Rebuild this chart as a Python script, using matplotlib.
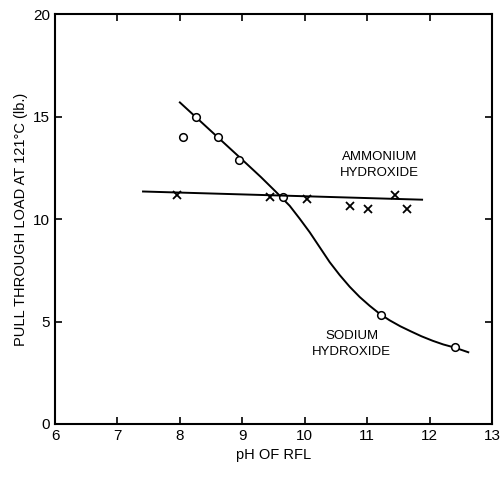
import matplotlib
matplotlib.use('Agg')
import matplotlib.pyplot as plt

plt.rcParams['font.family'] = ['Liberation Sans', 'DejaVu Sans']

# sodium hydroxide points (circles) and hand-drawn curve
naoh_ph = [8.05, 8.26, 8.61, 8.95, 9.65, 11.22, 12.4]
naoh_load = [14.0, 15.0, 14.0, 12.9, 11.1, 5.3, 3.75]
naoh_curve_ph = [8.0, 8.5, 9.0, 9.3, 9.55, 9.76, 9.92, 10.08, 10.24, 10.4, 10.56,
                 10.72, 10.88, 11.04, 11.2, 11.36, 11.53, 11.7, 11.87, 12.05, 12.22, 12.4, 12.62]
naoh_curve_load = [15.7, 14.3, 12.9, 12.05, 11.3, 10.65, 10.02, 9.36, 8.63, 7.9, 7.27,
                   6.7, 6.2, 5.77, 5.38, 5.06, 4.77, 4.52, 4.28, 4.06, 3.88, 3.73, 3.5]

# ammonium hydroxide points (crosses) and straight fit
nh4_ph = [7.95, 9.44, 10.03, 10.73, 11.02, 11.44, 11.64]
nh4_load = [11.2, 11.1, 11.0, 10.65, 10.5, 11.2, 10.5]
nh4_line_ph = [7.41, 11.88]
nh4_line_load = [11.35, 10.95]

fig = plt.figure(figsize=(5, 4.79), dpi=100)
ax = fig.add_axes([0.11, 0.115, 0.874, 0.855])

ax.plot(naoh_curve_ph, naoh_curve_load, color='black', lw=1.4)
ax.plot(naoh_ph, naoh_load, 'o', mfc='white', mec='black', ms=5.5, mew=1.1)
ax.plot(nh4_line_ph, nh4_line_load, color='black', lw=1.4)
ax.plot(nh4_ph, nh4_load, 'x', color='black', ms=6, mew=1.3)

ax.text(11.2, 12.65, 'AMMONIUM\nHYDROXIDE', fontsize=9.5, ha='center', va='center', linespacing=1.4)
ax.text(10.75, 3.9, 'SODIUM\nHYDROXIDE', fontsize=9.5, ha='center', va='center', linespacing=1.4)

ax.set_xlim(6, 13)
ax.set_ylim(0, 20)
ax.set_xticks([6, 7, 8, 9, 10, 11, 12, 13])
ax.set_yticks([0, 5, 10, 15, 20])
ax.tick_params(direction='in', top=True, right=True, length=5, width=1.2, labelsize=11)
for s in ax.spines.values():
    s.set_linewidth(1.5)

ax.set_xlabel('pH OF RFL', fontsize=10.5)
ax.set_ylabel('PULL THROUGH LOAD AT 121°C (lb.)', fontsize=10.5)

fig.savefig('out.png', dpi=100)
